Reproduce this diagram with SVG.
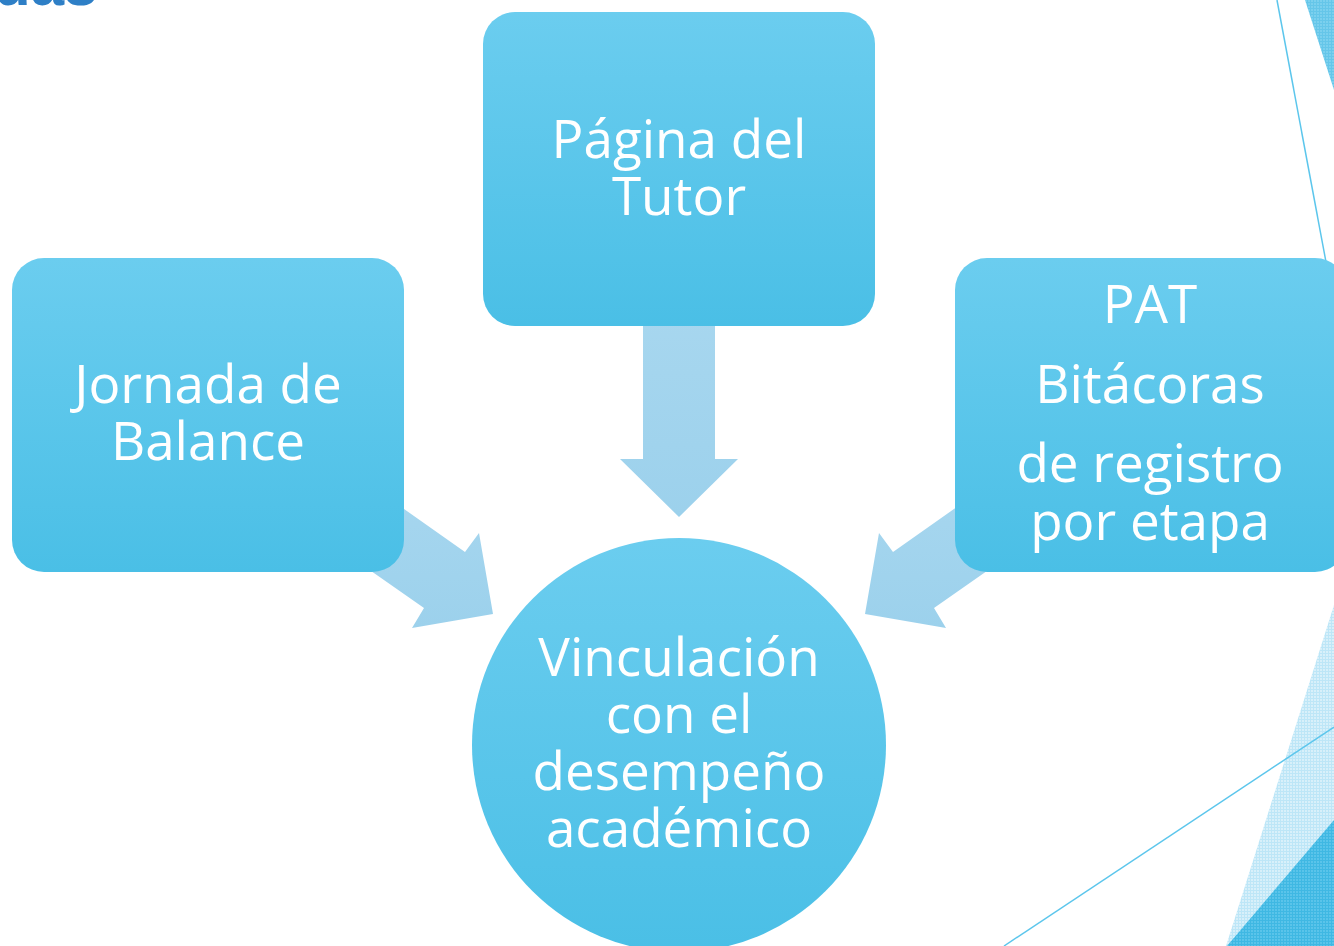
<svg xmlns="http://www.w3.org/2000/svg" width="1334" height="946" viewBox="0 0 1334 946">
<defs>
<linearGradient id="boxg" x1="0" y1="0" x2="0" y2="1">
<stop offset="0" stop-color="#6BCDEF"/>
<stop offset="1" stop-color="#4ABFE6"/>
</linearGradient>
<linearGradient id="arrg" x1="0" y1="0" x2="0" y2="1">
<stop offset="0" stop-color="#A8D7EF"/>
<stop offset="1" stop-color="#9CD1EC"/>
</linearGradient>
<pattern id="dots" width="3" height="3" patternUnits="userSpaceOnUse">
<rect width="3" height="3" fill="#BDE6F7"/>
<rect width="2" height="2" fill="#D8F0FA"/>
</pattern>
<pattern id="dotsDark" width="3" height="3" patternUnits="userSpaceOnUse">
<rect width="3" height="3" fill="#3FB8E3"/>
<rect width="2" height="2" fill="#5AC4EA"/>
</pattern>
<style>
.box{fill:url(#boxg);}
.arr{fill:url(#arrg);}
.lbl{font-family:"Open Sans","DejaVu Sans",sans-serif;font-size:53px;fill:#FFFFFF;text-anchor:middle;}
.deco{stroke:#5CC6EC;stroke-width:1.5;fill:none;}
</style>
</defs>
<rect width="1334" height="946" fill="#FFFFFF"/>
<g id="background">
<polygon points="1305,0 1334,0 1334,90" fill="url(#dotsDark)" opacity="0.8"/>
<line class="deco" x1="1277" y1="0" x2="1326" y2="262"/>
<polygon points="1334,605 1334,946 1226,946" fill="url(#dots)"/>
<polygon points="1334,820 1334,946 1227,946" fill="url(#dotsDark)"/>
<line class="deco" x1="1004" y1="946" x2="1334" y2="727"/>
<text x="-6" y="5" font-family="Liberation Sans, Arial, sans-serif" font-weight="bold" font-size="60" fill="#2E7FC6">das</text>
</g>
<g id="connectors">
<polygon class="arr" points="643,300 715,300 715,459 738,459 679,517 620,459 643,459"/>
<polygon class="arr" points="353,473 465,552 479,533 493,614 412,628 424,608 331,543"/>
<polygon class="arr" points="1005,473 893,552 879,533 865,614 946,628 934,608 1027,543"/>
</g>
<g id="node-pagina">
<rect class="box" x="483" y="12" width="392" height="314" rx="32"/>
<text class="lbl" x="679" y="158">Página del</text>
<text class="lbl" x="679" y="215">Tutor</text>
</g>
<g id="node-jornada">
<rect class="box" x="12" y="258" width="392" height="314" rx="32"/>
<text class="lbl" x="208" y="403">Jornada de</text>
<text class="lbl" x="208" y="460">Balance</text>
</g>
<g id="node-pat">
<rect class="box" x="955" y="258" width="392" height="314" rx="32"/>
<text class="lbl" x="1150" y="323">PAT</text>
<text class="lbl" x="1150" y="403">Bitácoras</text>
<text class="lbl" x="1150" y="482">de registro</text>
<text class="lbl" x="1150" y="540">por etapa</text>
</g>
<g id="node-vinculacion">
<circle class="box" cx="679" cy="745" r="207"/>
<text class="lbl" x="679" y="676">Vinculación</text>
<text class="lbl" x="679" y="733">con el</text>
<text class="lbl" x="679" y="790">desempeño</text>
<text class="lbl" x="679" y="847">académico</text>
</g>
</svg>
